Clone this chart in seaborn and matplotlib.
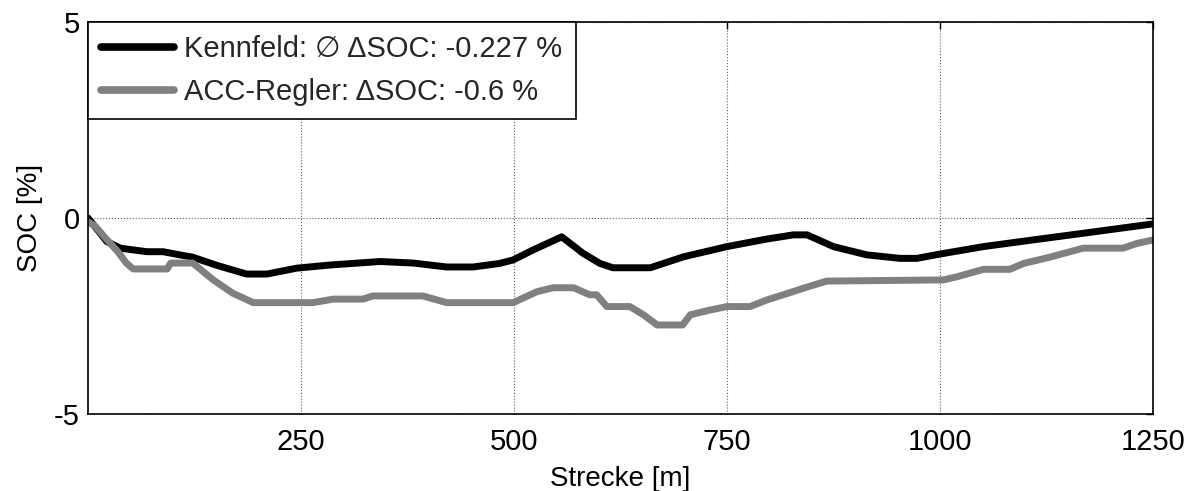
import matplotlib
matplotlib.use("Agg")
import matplotlib.pyplot as plt
import numpy as np
import pandas as pd
import seaborn as sns

# Kennfeld (black) trace: distance [m], SOC [%]
kf_x = [0, 2, 22, 38, 69, 88, 110, 123, 150, 186, 210, 245, 284, 343, 382, 421,
        452, 483, 499, 522, 556, 581, 601, 616, 660, 699, 750, 796, 828, 844,
        875, 914, 953, 973, 1000, 1051, 1109, 1168, 1250]
kf_y = [0.0, -0.05, -0.6, -0.77, -0.86, -0.86, -0.95, -1.0, -1.2, -1.43, -1.43,
        -1.28, -1.2, -1.11, -1.15, -1.25, -1.25, -1.16, -1.07, -0.82, -0.48,
        -0.9, -1.16, -1.27, -1.27, -0.99, -0.73, -0.54, -0.43, -0.43, -0.73,
        -0.94, -1.03, -1.03, -0.92, -0.73, -0.56, -0.39, -0.15]

# ACC-Regler (gray) trace
acc_x = [0, 8, 20, 35, 45, 53, 93, 97, 123, 147, 170, 194, 264, 288, 323, 334,
         393, 421, 499, 506, 527, 546, 570, 589, 597, 609, 636, 652, 668, 698,
         707, 730, 750, 777, 797, 816, 840, 867, 1004, 1020, 1051, 1082, 1098,
         1129, 1168, 1215, 1231, 1250]
acc_y = [-0.1, -0.2, -0.5, -0.86, -1.15, -1.3, -1.3, -1.15, -1.15, -1.58, -1.92,
         -2.16, -2.16, -2.07, -2.07, -1.99, -1.99, -2.16, -2.16, -2.09, -1.88,
         -1.78, -1.78, -1.96, -1.96, -2.26, -2.26, -2.47, -2.73, -2.73, -2.47,
         -2.35, -2.26, -2.26, -2.09, -1.96, -1.79, -1.61, -1.58, -1.5, -1.31,
         -1.31, -1.16, -1.0, -0.77, -0.77, -0.65, -0.56]

labels = ["Kennfeld: \u2205 \u0394SOC: -0.227 %", "ACC-Regler: \u0394SOC: -0.6 %"]
x_ticks = [250, 500, 750, 1000, 1250]
y_ticks = [-5, 0, 5]

sns.set_style("white")
plt.rcParams["font.family"] = ["Liberation Sans", "DejaVu Sans"]

df = pd.concat([
    pd.DataFrame({"Strecke": kf_x, "SOC": kf_y, "Serie": labels[0]}),
    pd.DataFrame({"Strecke": acc_x, "SOC": acc_y, "Serie": labels[1]}),
])

fig = plt.figure(figsize=(11.99, 4.91), dpi=100)
ax = fig.add_axes([0.0734, 0.157, 0.8882, 0.798])

sns.lineplot(data=df, x="Strecke", y="SOC", hue="Serie",
             palette={labels[0]: "black", labels[1]: "#808080"},
             lw=5, ax=ax, estimator=None, sort=False)

ax.set_xlim(0, 1250)
ax.set_ylim(-5, 5)
ax.set_xticks(x_ticks)
ax.set_yticks(y_ticks)
ax.set_xticklabels([str(t) for t in x_ticks])
ax.set_yticklabels([str(t) for t in y_ticks])
ax.tick_params(direction="in", length=5, width=1, top=True, right=True,
               labelsize=21, colors="black")
ax.tick_params(axis="x", pad=10)
ax.tick_params(axis="y", pad=6)
ax.grid(True, ls=":", color="#606060", lw=0.8)
for s in ax.spines.values():
    s.set_color("black")
    s.set_linewidth(1.2)
ax.set_xlabel("Strecke [m]", fontsize=20, labelpad=7, color="black")
ax.set_ylabel("SOC [%]", fontsize=20, labelpad=8, color="black")

leg = ax.legend(loc="upper left", fontsize=21, frameon=True, fancybox=False,
                edgecolor="black", framealpha=1, borderaxespad=0,
                handlelength=2.5, handletextpad=0.35, borderpad=0.45,
                labelspacing=0.5)
leg.get_frame().set_linewidth(1.2)
for h in leg.get_lines():
    h.set_linewidth(5.5)

fig.savefig("out.png", dpi=100)
